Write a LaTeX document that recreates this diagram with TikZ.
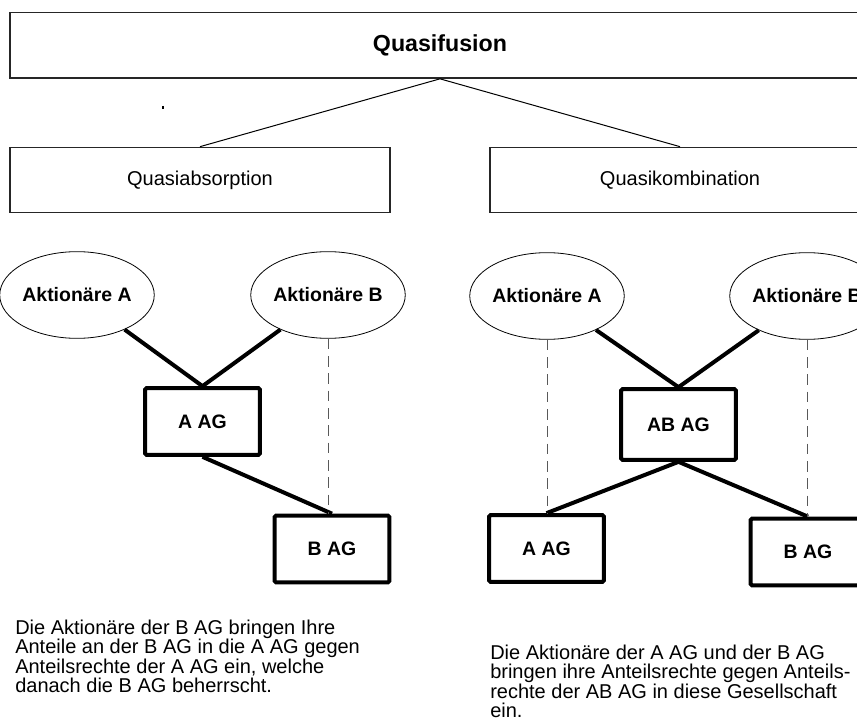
\documentclass[tikz,border=0pt]{standalone}
\usepackage{fontspec}
\setmainfont{Liberation Sans}
\usetikzlibrary{shapes.geometric}

\begin{document}
\begin{tikzpicture}[
  x=0.75pt, y=-0.75pt,
  frame/.style={draw=black!85, line width=1pt, minimum width=285pt,
                minimum height=49pt, inner sep=0pt,
                font=\fontsize{15}{17}\selectfont},
  holder/.style={ellipse, draw, line width=0.6pt, minimum width=96pt,
                 minimum height=65pt, inner sep=0pt,
                 font=\fontsize{14.6}{16}\selectfont\bfseries},
  ag/.style={draw, line width=3pt, rounded corners=1pt, minimum width=86pt,
             minimum height=50pt, font=\fontsize{14.6}{16}\selectfont\bfseries},
  own/.style={line width=3pt},
  link/.style={dash pattern=on 8pt off 5pt, line width=0.7pt, draw=black!65},
  note/.style={anchor=north west, inner sep=0pt, align=left,
               font=\fontsize{15}{14.4}\selectfont}
]
  \useasboundingbox (0,0) rectangle (857,727);
  \clip (0,0) rectangle (857,727);

  % Oberbegriff und Varianten
  \node[frame, minimum width=645pt,
        font=\fontsize{17.4}{19}\selectfont\bfseries] (fusion) at (440,45.5) {Quasifusion};
  \node[frame] (absorb) at (200,180) {Quasiabsorption};
  \node[frame] (kombi)  at (680,180) {Quasikombination};
  \draw[line width=0.75pt] (fusion.south) -- (absorb.north);
  \draw[line width=0.75pt] (fusion.south) -- (kombi.north);
  \draw[line width=0.8pt] (163,106) -- (163,109);

  % Quasiabsorption
  \node[holder] (la)   at (77,295)      {Aktionäre A};
  \node[holder] (lb)   at (328,295)     {Aktionäre B};
  \node[ag]     (laag) at (202.5,421.5) {A AG};
  \node[ag]     (lbag) at (332,549)     {B AG};
  \draw[own] (la) -- (laag.north);
  \draw[own] (lb) -- (laag.north);
  \draw[own] (laag.south) -- (lbag.north);
  \draw[link] (lb.south) -- (lb.south |- lbag.north);

  % Quasikombination
  \node[holder] (ra)   at (547,296)   {Aktionäre A};
  \node[holder] (rb)   at (807,296)   {Aktionäre B};
  \node[ag, minimum height=53pt] (rab) at (678.5,424.5) {AB AG};
  \node[ag]     (raag) at (546.5,548.5) {A AG};
  \node[ag]     (rbag) at (808,552)   {B AG};
  \draw[own] (ra) -- (rab.north);
  \draw[own] (rb) -- (rab.north);
  \draw[own] (rab.south) -- (raag.north);
  \draw[own] (rab.south) -- (rbag.north);
  \draw[link] (ra.south) -- (ra.south |- raag.north);
  \draw[link] (rb.south) -- (rb.south |- rbag.north);

  % Erlaeuterungen
  \node[note] (ltext) at (15,620) {Die Aktionäre der B AG bringen Ihre\\
    Anteile an der B AG in die A AG gegen\\
    Anteilsrechte der A AG ein, welche\\
    danach die B AG beherrscht.};
  \node[note] (rtext) at (490,645) {Die Aktionäre der A AG und der B AG\\
    bringen ihre Anteilsrechte gegen Anteils-\\
    rechte der AB AG in diese Gesellschaft\\
    ein.};
\end{tikzpicture}
\end{document}
